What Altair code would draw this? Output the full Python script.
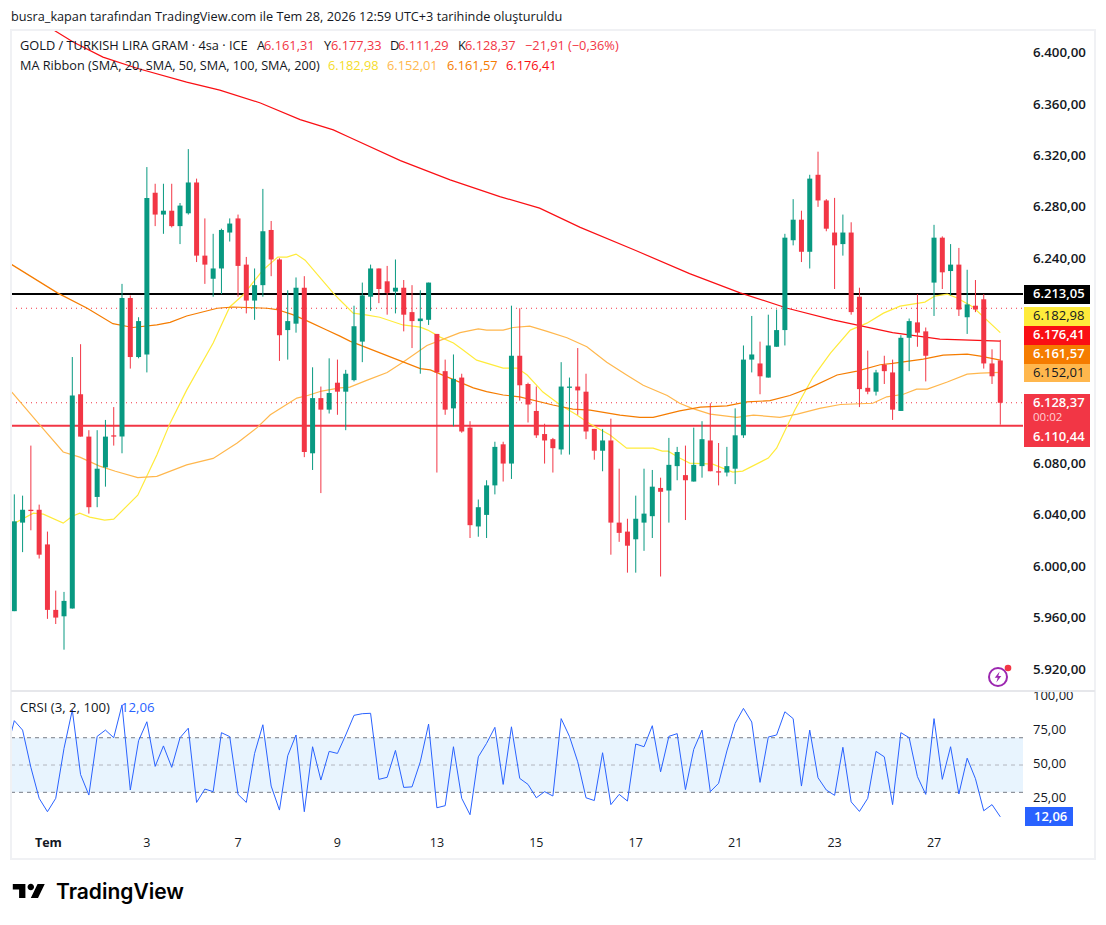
import altair as alt
import pandas as pd

highs = [6057,6056,6095,6049,6028,5982,5981,6164,6174,6107,
 6107,6115,6125,6221,6212,6195,6312,6299,6299,6299,
 6284,6326,6303,6272,6260,6264,6272,6275,6242,6233,
 6295,6270,6241,6216,6226,6227,6156,6141,6163,6162,
 6154,6204,6222,6236,6233,6235,6240,6224,6220,6216,
 6222,6182,6162,6166,6151,6114,6053,6068,6098,6098,
 6204,6202,6144,6141,6112,6101,6160,6148,6171,6151,
 6108,6108,6116,6077,6038,6056,6077,6076,6070,6101,
 6094,6095,6109,6114,6128,6097,6094,6124,6173,6196,
 6176,6197,6201,6260,6287,6278,6306,6324,6287,6288,
 6275,6269,6218,6169,6154,6165,6162,6181,6194,6213,
 6187,6267,6258,6252,6249,6232,6224,6213,6170,6177.33]
body_top = [6036,6045,6045,6045,6018,5967,5974,6134,6135,6102,
 6077,6102,6103,6210,6210,6192,6288,6292,6278,6278,
 6282,6300,6300,6243,6233,6263,6268,6272,6236,6220,
 6262,6263,6240,6192,6218,6218,6132,6132,6136,6144,
 6151,6188,6212,6233,6233,6223,6218,6218,6199,6194,
 6222,6182,6153,6147,6148,6109,6047,6064,6094,6096,
 6165,6165,6143,6122,6104,6100,6141,6141,6141,6137,
 6108,6099,6099,6035,6028,6038,6042,6063,6062,6080,
 6090,6072,6080,6100,6099,6075,6079,6103,6162,6166,
 6159,6173,6185,6257,6271,6271,6303,6306,6286,6261,
 6261,6261,6211,6140,6152,6158,6152,6179,6192,6191,
 6184,6257,6257,6236,6236,6205,6204,6209,6159,6161.31]
body_bot = [5966,6035,6044,6010,5967,5961,5962,5968,6102,6047,
 6055,6078,6102,6102,6164,6164,6166,6275,6275,6266,
 6266,6276,6243,6236,6225,6233,6261,6235,6208,6208,
 6220,6240,6181,6185,6190,6090,6089,6123,6123,6137,
 6137,6146,6176,6211,6217,6214,6215,6197,6192,6192,
 6193,6152,6123,6124,6106,6033,6032,6041,6064,6081,
 6081,6142,6127,6103,6099,6093,6092,6140,6138,6106,
 6091,6091,6035,6027,6017,6022,6035,6040,6059,6060,
 6079,6068,6067,6079,6075,6074,6074,6077,6103,6162,
 6149,6148,6172,6185,6255,6246,6246,6286,6264,6251,
 6252,6199,6139,6137,6137,6153,6123,6122,6179,6183,
 6165,6222,6230,6231,6201,6195,6201,6159,6149,6128.37]
lows = [5966,6012,6029,6007,5960,5956,5936,5968,6102,6042,
 6047,6063,6095,6089,6155,6163,6152,6266,6260,6265,
 6252,6275,6238,6221,6211,6213,6254,6211,6198,6193,
 6211,6227,6161,6162,6183,6086,6076,6058,6120,6119,
 6107,6145,6160,6200,6206,6197,6198,6184,6171,6151,
 6189,6074,6119,6110,6105,6023,6024,6023,6057,6067,
 6069,6130,6113,6101,6081,6074,6088,6088,6119,6100,
 6084,6075,6010,6020,5996,5996,6013,6023,5993,6035,
 6068,6037,6067,6070,6075,6064,6071,6065,6101,6152,
 6135,6148,6172,6173,6251,6238,6233,6281,6262,6217,
 6243,6197,6125,6135,6134,6143,6115,6122,6153,6172,
 6145,6196,6217,6212,6196,6182,6199,6155,6143,6111.29]
direction = ("GGRRRRGGRR" "GGRGRGGRGR" "GGRRGGGRRG" "GRRGGRGRGR"
             "GGGGRRGRRG" "GRRGRRGGGR" "GRRRRRGGRR" "RGRRRGGGRG"
             "GRGGRRGGGG" "RGGGGRGRRR" "GRRRGRRGGR" "RGRGRGRRRR")

ma200_i = [4.7,7.1,10.7,14.8,20.8,24.8,29.7,34.5,38.5,40.5,46.6,52.6,58.6,63.4,68.3,75,81.5,87.6,93.3,98.8,106,111.7,119]
ma200_v = [6419,6409.4,6397.7,6389,6378.2,6372,6361.9,6349,6341,6335,6317,6302,6289,6280,6265,6247,6229,6214,6202,6193,6183,6178,6176.41]

ma100_i = [-0.3,5.2,8.8,11.9,14.3,17.2,18.8,20.8,24.5,26.4,30.5,31.7,33.6,35.4,37.7,39.3,40.5,49,50.2,55.4,57,59,61,65,67.4,69.5,73.1,75.5,77.1,80.3,82.8,86,88.4,91.2,93.6,96,99.3,101.7,104.5,106,109.7,112.1,115,116.6,119]
ma100_v = [6236,6214,6202,6190,6187,6189,6191,6196,6202,6203,6202,6201,6197,6192,6185,6180.3,6176.4,6155,6154,6140,6137,6134.4,6133,6126.6,6123.4,6122.7,6118.8,6117,6117,6122,6125,6126,6129,6130,6134,6140,6150,6153,6158,6159,6162.4,6165.5,6166.3,6164.7,6161.57]

ma50_i = [-0.3,3.1,5.9,7.9,10.3,12.2,14.9,17.2,20.8,24,26.9,29.3,30.9,34.1,35.4,37.1,39.3,40.5,42.6,45,46.9,49.8,51.4,53.8,56,57,59,60.2,62.2,64.3,66.7,69.1,71.5,73.9,75.9,78.8,80.3,81.8,84,87.2,89.2,92.4,94.5,97.2,99.7,103.6,105.3,107.3,108.9,110.2,112.6,115,116.6,119]
ma50_v = [6136.7,6111,6090,6086,6079,6075,6070,6071,6080,6085,6097,6109,6119,6132,6134,6137.5,6140,6140.6,6146,6152,6160,6173,6177,6183,6186,6185,6185,6187,6188,6184,6179,6172,6160,6150,6142,6134,6128,6124,6119.5,6117,6118.8,6117,6119.5,6124,6127,6128,6133,6135,6139,6139,6144.5,6150.7,6151.5,6152.01]

ma20_i = [-0.3,0.3,2.3,3.5,5.9,7,7.9,9.1,10.9,12,14.9,17.2,18.8,20.8,24,26,27.6,30,31.8,32.9,34,35.1,38.5,39.3,40.9,42.6,44.1,46.9,49,49.9,51.4,53,54,55.8,59,60.7,61.9,63.8,65.9,67.9,69.5,71.9,73.9,77.1,78.2,78.9,80.3,81.5,84.3,86.7,87.9,91,92,94.2,96.4,98.5,100.9,102.9,104.9,106.9,109.9,111.1,112.6,113.8,115.7,119]
ma20_v = [6031.5,6035.4,6042.4,6041.6,6034.6,6040,6042.4,6039.3,6037,6037.7,6056.4,6087.6,6112.5,6138.2,6174.9,6203,6212.3,6231.7,6241.9,6241.9,6244.2,6239.5,6213.8,6208.4,6198.2,6196.7,6195,6189,6187.3,6185,6179.5,6174.9,6170.2,6161.6,6155.4,6155.4,6150,6136.7,6126.6,6118.8,6111.8,6103.2,6093,6093,6090.7,6090.7,6085.3,6081.4,6080.6,6074.4,6075.1,6085.3,6093,6122.7,6148.4,6167.1,6185,6190.4,6198.2,6203.7,6206.8,6211.5,6213,6210,6203,6182.98]

crsi = [82.5,75.6,48.3,25.6,15.8,25.6,62.2,90.3,43,28,
 71,75.6,70,94,31.7,67.8,81.7,49,64,48.3,
 70,77,22.6,32.4,30.5,73.7,70.8,28.5,22.6,58.5,
 79.5,34.6,17,56.8,72,15.8,63.4,39,60,58.5,
 72,86.4,87.6,87.9,39.5,41,60.7,33.6,34,52.4,
 80,18.7,20.2,63.4,25.6,13.6,56,65.9,77.6,35.8,
 78,40.2,35.8,26,30.5,27.3,84,71,52.4,26,
 24,59,21,28.5,23.6,65.4,63.4,78.8,45,71,
 73,32,61.5,75.6,30.5,36.6,60.3,80.5,91.5,81.5,
 37.3,70.5,72,89,84,34.6,75.6,40.7,31.7,27.8,
 63,23,16,25.6,60,56,21,73.7,70,41.5,
 28.5,84,39.5,63.4,28.8,55,40,16.5,21,12.06]

price_ticks = [5920,5960,6000,6040,6080,6240,6280,6320,6360,6400]
price_labels = ["5.920,00","5.960,00","6.000,00","6.040,00","6.080,00","6.240,00","6.280,00","6.320,00","6.360,00","6.400,00"]
crsi_ticks = [25,50,75,100]
crsi_labels = ["25,00","50,00","75,00","100,00"]
date_ticks = [16,27,39,51,63,75,87,99,111]
date_labels = ["3","7","9","13","15","17","21","23","27"]

FONT = "Open Sans"
INK = "#131722"
UP = "#089981"
DOWN = "#F23645"
M20, M50, M100, M200 = "#FFEB3B", "#FFB74D", "#F57C00", "#FA0F14"
TS = 12.8

xs = alt.Scale(domain=[-0.7603, 130.79], nice=False, zero=False)
ys = alt.Scale(domain=[5903.8, 6418.8], range=[683, 22], nice=False, zero=False)
cs = alt.Scale(domain=[2.4, 103.5], range=[822, 684], nice=False, zero=False)

one = pd.DataFrame({"a": [0]})
PANE_L, PANE_R = alt.value(3), alt.value(1015)

def X(f="i"):
    return alt.X(f"{f}:Q", scale=xs, axis=None)
def Y(f="p"):
    return alt.Y(f"{f}:Q", scale=ys, axis=None)
def C(f="v"):
    return alt.Y(f"{f}:Q", scale=cs, axis=None)

def txt(s, x, y, color=INK, size=TS, weight=400, align="left", font=FONT):
    return alt.Chart(one).mark_text(text=s, align=align, baseline="middle", color=color,
                                    fontSize=size, fontWeight=weight, font=font).encode(
        x=alt.value(x - 8), y=alt.value(y - 8))

def box(x0, x1, y0, y1, fill):
    return alt.Chart(one).mark_rect(color=fill).encode(
        x=alt.value(x0 - 8), x2=alt.value(x1 - 8), y=alt.value(y0 - 8), y2=alt.value(y1 - 8))

def hline(value, color, width, dash=None):
    kw = {"strokeDash": dash} if dash else {}
    return alt.Chart(pd.DataFrame({"p": [value]})).mark_rule(color=color, strokeWidth=width, **kw).encode(
        x=PANE_L, x2=PANE_R, y=Y())

def ma(idx, val, color, width=1.2):
    return alt.Chart(pd.DataFrame({"i": idx, "p": val})).mark_line(color=color, strokeWidth=width, interpolate="linear").encode(
        x=X(), y=Y(), order="i:Q")

candles = pd.DataFrame({
    "i": list(range(120)), "h": highs, "l": lows, "t": body_top, "b": body_bot,
    "d": list(direction)})
color_enc = alt.Color("d:N", scale=alt.Scale(domain=["G", "R"], range=[UP, DOWN]), legend=None)

wicks = alt.Chart(candles).mark_rule(strokeWidth=1).encode(x=X(), y=Y("l"), y2="h:Q", color=color_enc)
bodies = alt.Chart(candles).mark_rule(strokeWidth=5).encode(x=X(), y=Y("b"), y2="t:Q", color=color_enc)

price_text = alt.Chart(pd.DataFrame({"p": price_ticks, "s": price_labels})).mark_text(
    align="left", baseline="middle", dy=-0.7, font=FONT, fontSize=13.3, fontWeight=600, color=INK).encode(
    x=alt.value(1025), y=Y(), text="s:N")

main = alt.layer(
    price_text,
    hline(6202, DOWN, 1, [1, 4]),
    hline(6128.37, DOWN, 1, [1, 4]),
    hline(6213.05, "#000000", 2),
    hline(6110.44, DOWN, 2),
    ma(ma20_i, ma20_v, M20),
    ma(ma50_i, ma50_v, M50),
    ma(ma100_i, ma100_v, M100),
    ma(ma200_i, ma200_v, M200),
    wicks,
    bodies,
)

band = alt.Chart(pd.DataFrame({"v": [70], "w": [30]})).mark_rect(color="#2196F3", opacity=0.1).encode(
    x=PANE_L, x2=PANE_R, y=C(), y2="w:Q")
def level(v, color):
    return alt.Chart(pd.DataFrame({"v": [v]})).mark_rule(color=color, strokeWidth=1, strokeDash=[4, 4]).encode(
        x=PANE_L, x2=PANE_R, y=C())
crsi_line = alt.Chart(pd.DataFrame({"i": [-0.4] + list(range(120)), "v": [73] + crsi})).mark_line(
    color="#2962FF", strokeWidth=1).encode(x=X(), y=C(), order="i:Q")
crsi_text = alt.Chart(pd.DataFrame({"v": crsi_ticks, "s": crsi_labels})).mark_text(
    align="left", baseline="middle", dy=-0.7, font=FONT, fontSize=13, color=INK).encode(
    x=alt.value(1025), y=C(), text="s:N")
lower = alt.layer(band, level(70, "#787B86"), level(50, "#B2B5BE"), level(30, "#787B86"), crsi_line, crsi_text)

date_text = alt.Chart(pd.DataFrame({"i": date_ticks, "s": date_labels})).mark_text(
    align="center", baseline="middle", font=FONT, fontSize=12.5, color=INK).encode(
    x=X(), y=alt.value(835), text="s:N")

frame = alt.Chart(one).mark_rect(fill=None, stroke="#F0F1F4", strokeWidth=2).encode(
    x=alt.value(3), x2=alt.value(1087), y=alt.value(22), y2=alt.value(851))
sep = alt.Chart(one).mark_rule(color="#E6E7EB", strokeWidth=2).encode(
    x=alt.value(3), x2=alt.value(1087), y=alt.value(683))

bolt = "M0.3 -1 L-0.6 0.15 L-0.05 0.15 L-0.3 1 L0.6 -0.2 L0.05 -0.2 Z"
logo = ("M-0.222 0.4375 L-0.611 0.4375 L-0.611 -0.097 L-1 -0.097 L-1 -0.4375 L-0.222 -0.4375 Z "
        "M0.556 0.4375 L0.111 0.4375 L0.528 -0.4375 L0.972 -0.4375 Z "
        "M-0.089 -0.24 a0.2 0.2 0 1 0 0.4 0 a0.2 0.2 0 1 0 -0.4 0 Z")
def pt(shape, x, y, size, fill=None, stroke=None, sw=1.5):
    kw = {}
    if fill:
        kw.update(fill=fill, filled=True, stroke=None)
    else:
        kw.update(filled=False, stroke=stroke, strokeWidth=sw)
    return alt.Chart(one).mark_point(shape=shape, size=size, opacity=1, **kw).encode(
        x=alt.value(x - 8), y=alt.value(y - 8))

WH, DK = "#FFFFFF", INK
overlay = [
    frame, sep, date_text,
    txt("busra_kapan tarafından TradingView.com ile Tem 28, 2026 12:59 UTC+3 tarihinde oluşturuldu", 11, 16.5, size=12.7),
    txt("GOLD / TURKISH LIRA GRAM · 4sa · ICE", 20, 46),
    txt("A", 257, 46), txt("6.161,31", 264, 46, DOWN),
    txt("Y", 324, 46), txt("6.177,33", 331, 46, DOWN),
    txt("D", 390, 46), txt("6.111,29", 398, 46, DOWN),
    txt("K", 458, 46), txt("6.128,37", 465, 46, DOWN),
    txt("−21,91", 525, 46, DOWN), txt("(−0,36%)", 568, 46, DOWN),
    txt("MA Ribbon (SMA, 20, SMA, 50, SMA, 100, SMA, 200)", 20, 66, size=12.7),
    txt("6.182,98", 328, 66, "#F5DC2A"), txt("6.152,01", 387, 66, M50),
    txt("6.161,57", 447, 66, M100), txt("6.176,41", 506, 66, M200),
    txt("CRSI (3, 2, 100)", 20, 708, size=13.2), txt("12,06", 121, 708, "#2962FF", size=13.2),
    txt("Tem", 35, 843, size=12.5, weight=700),
    box(1024, 1090, 285, 304, "#000000"), txt("6.213,05", 1033, 294, WH, 13, 600),
    box(1024, 1090, 307, 326, M20), txt("6.182,98", 1033, 315.5, DK, 13, 500),
    box(1024, 1090, 326, 345, M200), txt("6.176,41", 1033, 335, WH, 13, 600),
    box(1024, 1090, 345, 364, M100), txt("6.161,57", 1033, 354, WH, 13, 600),
    box(1024, 1090, 364, 382, M50), txt("6.152,01", 1033, 372.5, DK, 13, 500),
    box(1024, 1090, 394, 447, DOWN),
    txt("6.128,37", 1033, 402.5, WH, 13, 600),
    txt("00:02", 1033, 418, "#FFD0D5", 11.5),
    txt("6.110,44", 1033, 437, WH, 13, 600),
    box(1025, 1073, 807, 826, "#2962FF"), txt("12,06", 1034, 816.5, WH, 13, 600),
    pt("circle", 998, 677, 324, stroke="#9C27B0", sw=2),
    pt(bolt, 998, 677, 120, fill="#9C27B0"),
    pt("circle", 1008, 668, 44, fill=DOWN),
    pt(logo, 29, 891, 1050, fill="#000000"),
    txt("TradingView", 56, 893, "#000000", 21, 600, font="Inter"),
]

chart = alt.layer(main, lower, *overlay).resolve_scale(y="independent").properties(
    width=1090, height=909, padding=0,
    autosize=alt.AutoSizeParams(type="none"),
    background="#FFFFFF",
).configure_view(stroke=None)

chart.save("out.html", embed_options={"renderer": "svg", "actions": False})
